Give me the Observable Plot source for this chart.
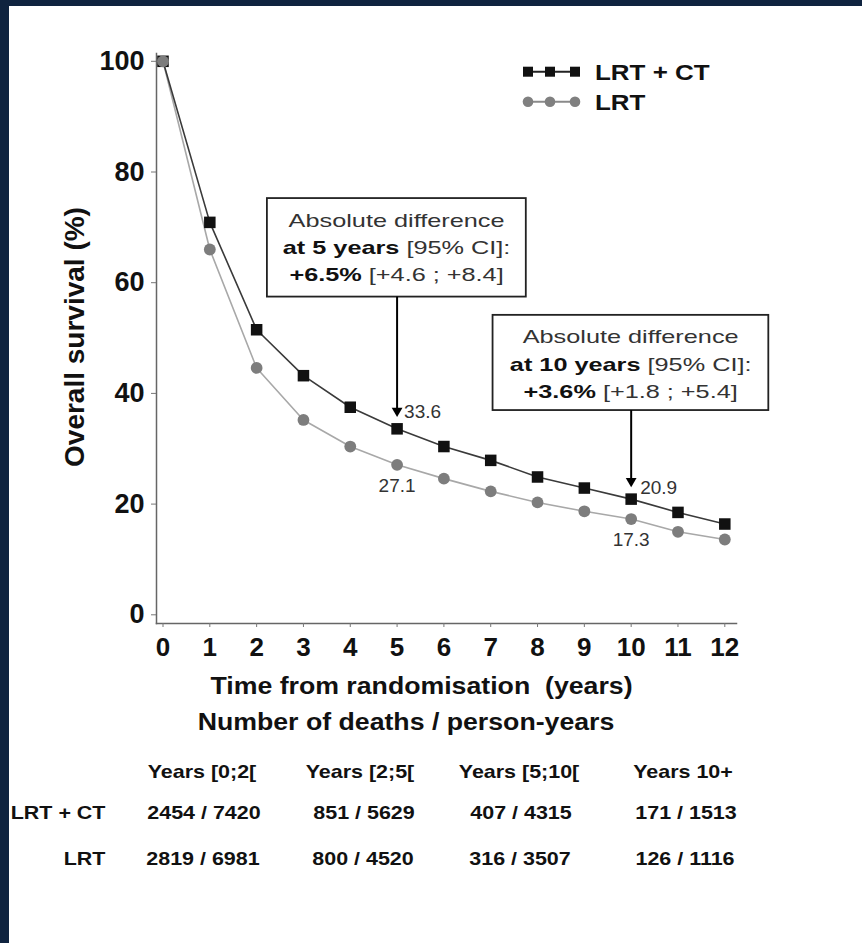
<!DOCTYPE html>
<html>
<head>
<meta charset="utf-8">
<script src="https://cdn.jsdelivr.net/npm/d3@7"></script>
<script src="https://cdn.jsdelivr.net/npm/@observablehq/plot@0.6"></script>
<style>
  html, body { margin: 0; padding: 0; background: #0f233f; width: 862px; height: 943px; overflow: hidden; }
  #panel { position: absolute; left: 9px; top: 6px; right: 0; bottom: 0; background: #ffffff; }
  #wrap { position: absolute; left: 0; top: 0; width: 862px; height: 943px; }
  #wrap svg { position: absolute; left: 0; top: 0; }
</style>
</head>
<body>
<div id="panel"></div>
<div id="wrap"></div>
<script>
// ---------------- data ----------------
const years = [0, 1, 2, 3, 4, 5, 6, 7, 8, 9, 10, 11, 12];
const survLrtCt = [100, 70.9, 51.5, 43.2, 37.5, 33.6, 30.4, 27.9, 24.9, 22.9, 20.9, 18.5, 16.4];
const survLrt   = [100, 66.0, 44.6, 35.2, 30.4, 27.1, 24.6, 22.3, 20.3, 18.7, 17.3, 15.0, 13.6];
const seriesNames = ["LRT + CT", "LRT"];
const yTicks = [0, 20, 40, 60, 80, 100];
const xTicks = [0, 1, 2, 3, 4, 5, 6, 7, 8, 9, 10, 11, 12];

const annotYears = [5, 10];
const annotDiff = ["+6.5%", "+3.6%"];
const annotCI = ["[+4.6 ; +8.4]", "[+1.8 ; +5.4]"];

const periodLabels = ["Years [0;2[", "Years [2;5[", "Years [5;10[", "Years 10+"];
const deathsLrtCt = [2454, 851, 407, 171];
const pyLrtCt     = [7420, 5629, 4315, 1513];
const deathsLrt   = [2819, 800, 316, 126];
const pyLrt       = [6981, 4520, 3507, 1116];

const xTitle = "Time from randomisation  (years)";
const yTitle = "Overall survival (%)";
const tableTitle = "Number of deaths / person-years";

// ---------------- layout (not data) ----------------
const FONT = "'Liberation Sans', Arial, Helvetica, sans-serif";
// annotation boxes, in axis units (years, %)
const boxX1 = [2.23, 7.05];
const boxX2 = [7.76, 12.94];
const boxYBottom = [57.4, 36.9];
const boxYTop = [75.2, 54.1];

// ---------------- build rows ----------------
const ctRows = years.map((t, i) => ({year: t, surv: survLrtCt[i], arm: seriesNames[0]}));
const lrtRows = years.map((t, i) => ({year: t, surv: survLrt[i], arm: seriesNames[1]}));
const ann = annotYears.map((t, i) => ({
  year: t,
  ct: survLrtCt[years.indexOf(t)],
  lrt: survLrt[years.indexOf(t)],
  x1: boxX1[i], x2: boxX2[i], yb: boxYBottom[i], yt: boxYTop[i]
}));
const fmt = v => v.toFixed(1);

const plot = Plot.plot({
  width: 862,
  height: 680,
  marginLeft: 156,
  marginRight: 126,
  marginTop: 53,
  marginBottom: 57,
  x: {domain: [0, 12], insetLeft: 6.5, insetRight: 11.7},
  y: {domain: [0, 100], insetTop: 7.8, insetBottom: 8.7},
  style: {fontFamily: FONT, background: "transparent", overflow: "visible", color: "#111"},
  marks: [
    Plot.frame({anchor: "left", stroke: "#666", strokeWidth: 1.5}),
    Plot.frame({anchor: "bottom", stroke: "#666", strokeWidth: 1.5}),
    Plot.axisY({ticks: yTicks, tickSize: 5, tickPadding: 7, fontSize: 27, fontWeight: "bold",
      label: null, stroke: "#777", fill: "#111"}),
    Plot.axisX({ticks: xTicks, tickSize: 4, tickPadding: 10, fontSize: 26, fontWeight: "bold",
      label: null, stroke: "#777", fill: "#111", tickFormat: d => String(d)}),
    Plot.line(lrtRows, {x: "year", y: "surv", stroke: "#a8a8a8", strokeWidth: 1.6}),
    Plot.line(ctRows, {x: "year", y: "surv", stroke: "#3a3a3a", strokeWidth: 1.6}),
    Plot.dot(ctRows, {x: "year", y: "surv", symbol: "square", r: 6.5, fill: "#111"}),
    Plot.dot(lrtRows, {x: "year", y: "surv", symbol: "circle", r: 5.9, fill: "#7d7d7d"}),
    // annotation boxes and arrows
    Plot.rect(ann, {x1: "x1", x2: "x2", y1: "yb", y2: "yt", fill: "white", stroke: "#222", strokeWidth: 1.8}),
    Plot.ruleX(ann, {x: "year", y1: "yb", y2: "ct", insetBottom: 18, stroke: "#000", strokeWidth: 2}),
    Plot.dot(ann, {x: "year", y: "ct", symbol: "triangle", r: 4, rotate: 180, fill: "#000", dy: -18}),
    // value labels
    Plot.text(ann.filter(d => d.year === 5), {x: "year", y: "ct", text: d => fmt(d.ct),
      textAnchor: "start", dx: 7, dy: -17, fontSize: 19, fill: "#333"}),
    Plot.text(ann.filter(d => d.year === 10), {x: "year", y: "ct", text: d => fmt(d.ct),
      textAnchor: "start", dx: 9, dy: -11, fontSize: 19, fill: "#333"}),
    Plot.text(ann, {x: "year", y: "lrt", text: d => fmt(d.lrt),
      textAnchor: "middle", dy: 21, fontSize: 19, fill: "#333"})
  ]
});
document.getElementById("wrap").appendChild(plot);

// ---------------- overlay texts (titles, legend, table, box texts) ----------------
const ov = d3.select("#wrap").append("svg")
  .attr("width", 862).attr("height", 943)
  .style("overflow", "visible");

function addText(x, y, parts, o = {}) {
  const t = ov.append("text")
    .attr("x", x).attr("y", y)
    .attr("text-anchor", o.anchor || "middle")
    .attr("font-size", o.size || 18)
    .attr("font-family", FONT)
    .style("white-space", "pre");
  if (o.transform) t.attr("transform", o.transform);
  const ps = typeof parts === "string" ? [[parts, o.weight || "bold", o.fill || "#111"]] : parts;
  for (const [s, w, f] of ps) t.append("tspan").attr("font-weight", w).attr("fill", f).text(s);
  if (o.k) {
    const L = t.node().getComputedTextLength();
    t.attr("textLength", L * o.k).attr("lengthAdjust", "spacingAndGlyphs");
  }
  return t;
}

const sx = plot.scale("x"), sy = plot.scale("y");

// box texts
ann.forEach((d, i) => {
  const cx = sx.apply(d.year);
  const top = sy.apply(d.yt);
  addText(cx, top + 28.5, [["Absolute difference", "normal", "#333"]], {size: 19, k: 1.33});
  addText(cx, top + 56, [[`at ${d.year} years`, "bold", "#111"], [" [95% CI]:", "normal", "#333"]], {size: 19, k: 1.33});
  addText(cx, top + 83, [[annotDiff[i], "bold", "#111"], [" " + annotCI[i], "normal", "#333"]], {size: 19, k: 1.33});
});

// axis titles
addText(0, 0, yTitle, {size: 28, transform: "translate(84,337) rotate(-90)"});
addText(421.5, 694, xTitle, {size: 23, k: 1.16});
addText(406, 730, tableTitle, {size: 23, k: 1.16});

// legend
const legX = [528, 550, 575];
ov.append("line").attr("x1", 523).attr("x2", 580).attr("y1", 71.7).attr("y2", 71.7)
  .attr("stroke", "#222").attr("stroke-width", 2);
legX.forEach(x => ov.append("rect").attr("x", x - 5).attr("y", 66.7).attr("width", 10).attr("height", 10).attr("fill", "#111"));
ov.append("line").attr("x1", 523).attr("x2", 580).attr("y1", 101.7).attr("y2", 101.7)
  .attr("stroke", "#8a8a8a").attr("stroke-width", 2);
legX.forEach(x => ov.append("circle").attr("cx", x).attr("cy", 101.7).attr("r", 5.3).attr("fill", "#808080"));
addText(595, 79.5, seriesNames[0], {size: 22, anchor: "start", k: 1.18});
addText(595, 109.5, seriesNames[1], {size: 22, anchor: "start", k: 1.18});

// table
const headX = [202, 360, 519, 683];
const valX = [204, 364, 521, 686];
periodLabels.forEach((s, i) => addText(headX[i], 778, s, {size: 18.5, k: 1.16}));
addText(105.5, 819, seriesNames[0], {size: 18.5, anchor: "end", k: 1.16});
addText(105.5, 865, seriesNames[1], {size: 18.5, anchor: "end", k: 1.16});
deathsLrtCt.forEach((v, i) => addText(valX[i], 819, `${v} / ${pyLrtCt[i]}`, {size: 18.5, k: 1.16}));
deathsLrt.forEach((v, i) => addText(valX[i] - 1, 865, `${v} / ${pyLrt[i]}`, {size: 18.5, k: 1.16}));
</script>
</body>
</html>
